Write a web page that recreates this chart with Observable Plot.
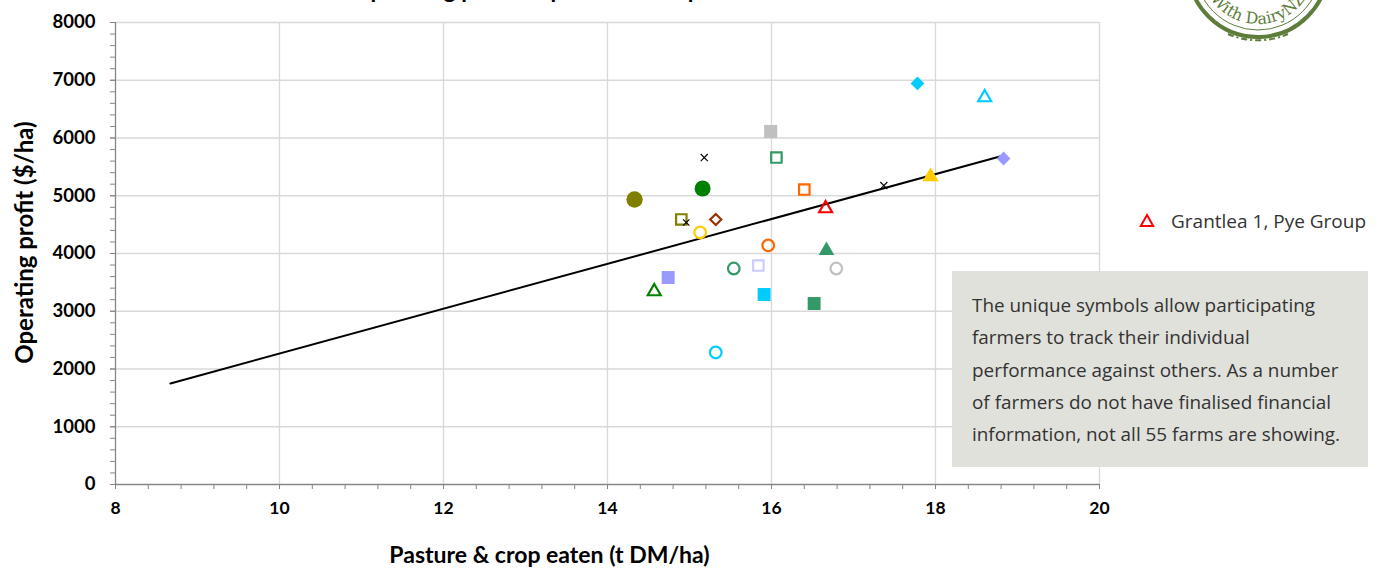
<!DOCTYPE html>
<html>
<head>
<meta charset="utf-8">
<script src="https://cdn.jsdelivr.net/npm/d3@7"></script>
<script src="https://cdn.jsdelivr.net/npm/@observablehq/plot@0.6"></script>
<style>
  html, body { margin: 0; padding: 0; background: #fff; }
  #wrap { position: relative; width: 1384px; height: 568px; overflow: hidden; }
  #chart { position: absolute; left: 0; top: 0; }
  .legend { position: absolute; left: 1138px; top: 208px; font-family: "Open Sans", sans-serif; font-size: 19px; color: #333; white-space: nowrap; }
  .legend svg { vertical-align: -1px; margin-right: 15px; }
  .note { position: absolute; left: 952px; top: 271px; width: 416px; height: 196px; background: #e1e1dc; box-sizing: border-box; padding: 18px 0 0 20px; font-family: "Open Sans", sans-serif; font-size: 18.9px; line-height: 32.3px; color: #333; white-space: nowrap; }
  #deco { position: absolute; left: 0; top: 0; pointer-events: none; }
</style>
</head>
<body>
<div id="wrap">
  <div id="chart"></div>
  <svg id="deco" width="1384" height="568"></svg>
  <div class="legend" id="legend"></div>
  <div class="note" id="note"></div>
</div>
<script>
// ---- data ----
const farms  = ["A","B","C","D","E","F","G","H","I","J","K","L","M","N","O","P","Q","R","S","T","U","V","W","X","Y","Z"];
const eaten  = [14.33,15.16,15.18,14.90,14.96,15.32,15.13,15.99,16.06,16.40,16.66,15.96,16.67,16.79,15.54,15.84,14.74,14.57,15.91,16.52,15.32,17.78,18.60,17.37,17.94,18.83];
const profit = [4935,5126,5662,4589,4537,4589,4364,6113,5662,5108,4779,4139,4052,3740,3740,3792,3584,3342,3290,3134,2286,6944,6701,5177,5333,5645];
const trendEaten  = [8.67, 18.83];
const trendProfit = [1750, 5697];
const xTicks = [8, 10, 12, 14, 16, 18, 20];
const yTicks = [0, 1000, 2000, 3000, 4000, 5000, 6000, 7000, 8000];
const legendLabel = "Grantlea 1, Pye Group";
const titleText = "Operating profit vs pasture & crop eaten";
const xLabel = "Pasture & crop eaten (t DM/ha)";
const yLabel = "Operating profit ($/ha)";
const noteLines = [
  "The unique symbols allow participating",
  "farmers to track their individual",
  "performance against others. As a number",
  "of farmers do not have finalised financial",
  "information, not all 55 farms are showing."
];

// ---- marker styles (per farm) ----
const OLIVE="#808000", GREEN="#008000", BROWN="#993300", YELLOW="#ffcc00", GREY="#c0c0c0",
      SEA="#339966", ORANGE="#ff6600", RED="#ff0000", PURPLE="#9999ff", LAV="#ccccff", CYAN="#00ccff", BLACK="#000000";
const style = {
  A:["circle",OLIVE,true,8.2], B:["circle",GREEN,true,8], C:["times",BLACK,false,3.3], D:["square",OLIVE,false,5.9],
  E:["times",BLACK,false,3.0], F:["diamond2",BROWN,false,5.0], G:["circle",YELLOW,false,5.8], H:["square",GREY,true,7.4],
  I:["square",SEA,false,5.9], J:["square",ORANGE,false,5.9], K:["triangle",RED,false,4.8], L:["circle",ORANGE,false,5.8],
  M:["triangle",SEA,true,5.8], N:["circle",GREY,false,5.8], O:["circle",SEA,false,5.8], P:["square",LAV,false,5.9],
  Q:["square",PURPLE,true,7.3], R:["triangle",GREEN,false,4.8], S:["square",CYAN,true,7.3], T:["square",SEA,true,7.3],
  U:["circle",CYAN,false,5.8], V:["diamond2",CYAN,true,6.2], W:["triangle",CYAN,false,4.8], X:["times",BLACK,false,3.3],
  Y:["triangle",YELLOW,true,6.0], Z:["diamond2",PURPLE,true,6.2]
};

const pts = farms.map((f, i) => ({farm: f, x: eaten[i], y: profit[i], sym: style[f][0], col: style[f][1], filled: style[f][2], r: style[f][3]}));
const trend = trendEaten.map((x, i) => ({x, y: trendProfit[i]}));
const filled = pts.filter(d => d.filled);
const open = pts.filter(d => !d.filled && d.sym !== "times");
const times = pts.filter(d => d.sym === "times");

const FONT = "Lato, 'Open Sans', sans-serif";
const fmt = d => String(d);
const chart = Plot.plot({
  width: 1384,
  height: 568,
  marginLeft: 115,
  marginRight: 285,
  marginTop: 22,
  marginBottom: 84,
  style: {fontFamily: FONT, fontSize: "17.5px", fontWeight: "bold", color: "#000", background: "transparent"},
  x: {domain: [8, 20]},
  y: {domain: [0, 8000]},
  symbol: {type: "identity"},
  color: {type: "identity"},
  r: {type: "identity"},
  marks: [
    Plot.gridX(xTicks.slice(1), {stroke: "#d9d9d9", strokeOpacity: 1, strokeWidth: 1.3}),
    Plot.gridY(yTicks.slice(1), {stroke: "#d9d9d9", strokeOpacity: 1, strokeWidth: 1.3}),
    Plot.axisX(d3.range(8, 20.001, 0.4), {tickSize: 5, text: null, stroke: "#868686", label: null}),
    Plot.axisY(d3.range(0, 8001, 200), {tickSize: 5, text: null, stroke: "#868686", label: null}),
    Plot.axisX(xTicks, {tickSize: 5, tickPadding: 12, tickFormat: fmt, stroke: "#868686", label: null, fill: "#000"}),
    Plot.axisY(yTicks, {tickSize: 5, tickPadding: 15, tickFormat: fmt, stroke: "#868686", label: null, fill: "#000", fontSize: 18.5}),
    Plot.ruleX([8], {stroke: "#868686", strokeWidth: 1.3}),
    Plot.ruleY([0], {stroke: "#868686", strokeWidth: 1.3}),
    Plot.text([xLabel], {frameAnchor: "bottom", dx: -58, dy: 78, fontSize: 23, fontWeight: "bold", fill: "#000"}),
    Plot.text([yLabel], {frameAnchor: "left", textAnchor: "middle", dx: -90, dy: -11, rotate: -90, fontSize: 24, fontWeight: "bold", fill: "#000"}),
    Plot.line(trend, {x: "x", y: "y", stroke: "#000", strokeWidth: 2}),
    Plot.dot(filled, {x: "x", y: "y", symbol: "sym", fill: "col", r: "r", stroke: "none"}),
    Plot.dot(open, {x: "x", y: "y", symbol: "sym", stroke: "col", r: "r", fill: "none", strokeWidth: 2.2}),
    Plot.dot(times, {x: "x", y: "y", symbol: "sym", stroke: "col", r: "r", fill: "none", strokeWidth: 1.1})
  ]
});
document.getElementById("chart").appendChild(chart);

// legend
document.getElementById("legend").innerHTML =
  `<svg width="18" height="16" viewBox="-9 -8 18 16"><path d="M0,-6L6.2,5L-6.2,5Z" fill="none" stroke="${RED}" stroke-width="2"/></svg>${legendLabel}`;

// note
document.getElementById("note").innerHTML = noteLines.join("<br>");

// title (cut off at top, as in the reference) and logo stamp
const deco = d3.select("#deco");
deco.append("text").attr("x", 352).attr("y", -2).attr("font-family", FONT).attr("font-weight", "bold")
  .attr("font-size", 23).attr("fill", "#000").text(titleText);
const LG = "#5e7d3b";
const cx = 1258, cy = -33;
deco.append("circle").attr("cx", cx).attr("cy", cy).attr("r", 70).attr("fill", "none").attr("stroke", LG).attr("stroke-width", 4);
deco.append("circle").attr("cx", cx).attr("cy", cy).attr("r", 63).attr("fill", "none").attr("stroke", LG).attr("stroke-width", 1);
deco.append("path").attr("id", "arc").attr("fill", "none")
  .attr("d", `M${cx - 57},${cy} A57,57 0 0,0 ${cx + 57},${cy}`);
deco.append("text").attr("font-family", "'DejaVu Serif', serif").attr("font-size", 16).attr("fill", LG)
  .append("textPath").attr("href", "#arc").attr("startOffset", "50%").attr("text-anchor", "middle").text("With DairyNZ");
deco.append("path").attr("fill", "none").attr("stroke", LG).attr("stroke-width", 2).attr("stroke-dasharray", "6 3 2 3")
  .attr("d", `M${cx - 30},${cy + 67} A74,74 0 0,0 ${cx + 30},${cy + 67}`);
</script>
</body>
</html>
